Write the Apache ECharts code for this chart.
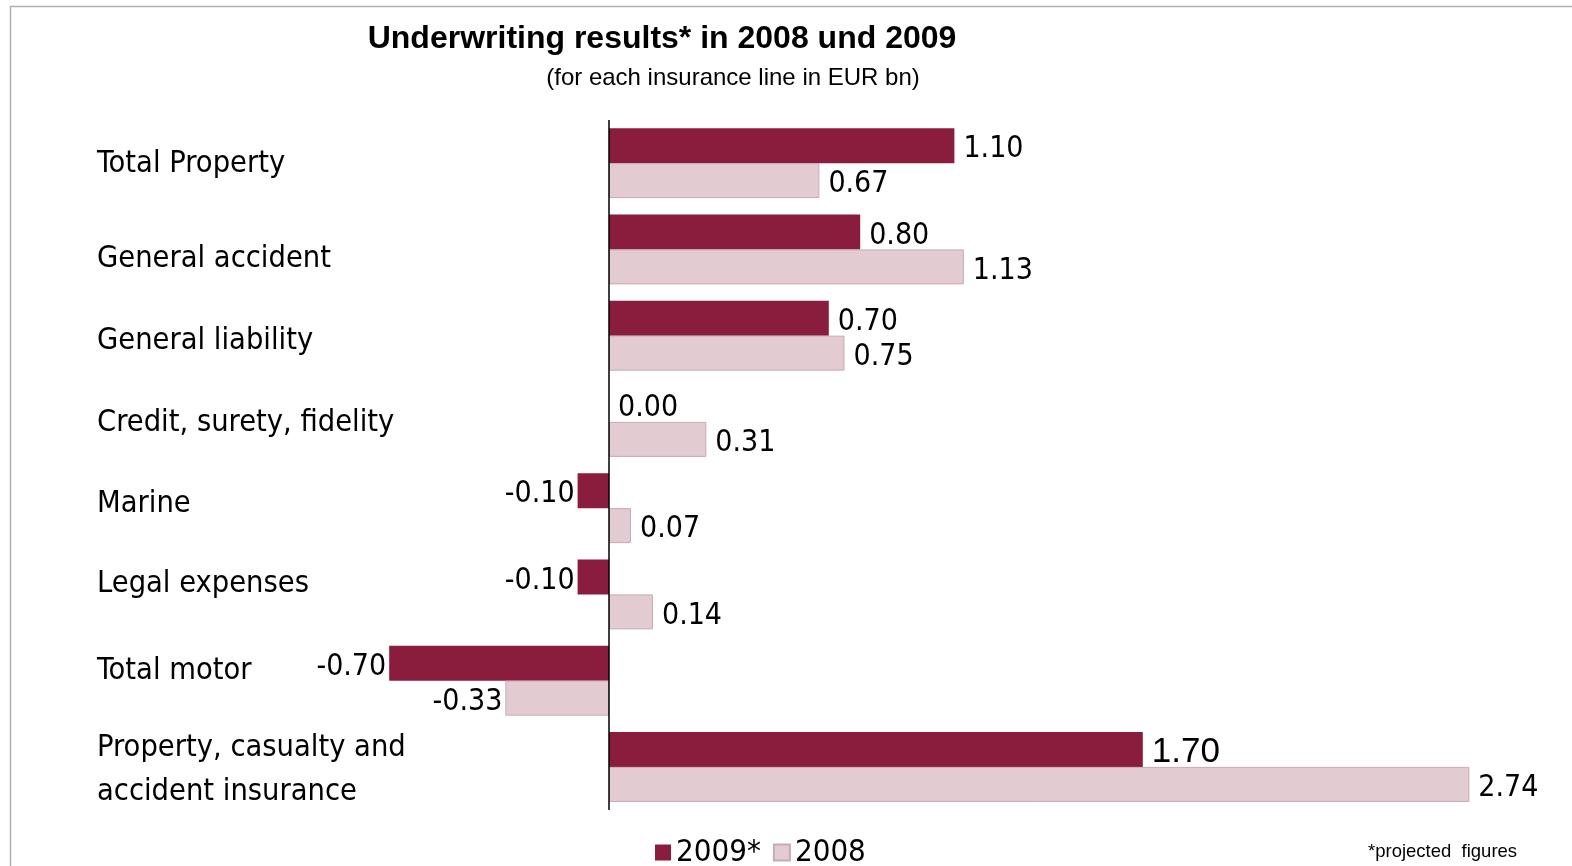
<!DOCTYPE html>
<html>
<head>
<meta charset="utf-8">
<script src="https://cdn.jsdelivr.net/npm/echarts@6/dist/echarts.min.js"></script>
<style>
html,body{margin:0;padding:0;background:#fff;}
#main{width:1572px;height:866px;}
</style>
</head>
<body>
<div id="main"></div>
<script>
const categories = ['Total Property','General accident','General liability','Credit, surety, fidelity','Marine','Legal expenses','Total motor','Property, casualty and\naccident insurance'];
const values2009 = [1.10, 0.80, 0.70, 0.00, -0.10, -0.10, -0.70, 1.70];
const values2008 = [0.67, 1.13, 0.75, 0.31, 0.07, 0.14, -0.33, 2.74];
const seriesNames = ['2009*', '2008'];

const NARROW = "'Liberation Sans Narrow','Arial Narrow','DejaVu Sans Condensed',sans-serif";
const SANS = "'Liberation Sans',Arial,sans-serif";
// small vertical nudges of the category labels (px, + = down)
const labelNudge = [1, 10, 5, 1, -4, -10, -10, 3];

function mkData(vals, isTotalBig) {
  return vals.map((v, i) => {
    const item = { value: v, label: { position: v < 0 ? 'left' : 'right', distance: v < 0 ? 3 : 9 } };
    if (isTotalBig && i === vals.length - 1) {
      item.label.fontFamily = SANS;
      item.label.fontSize = 35;
      item.label.offset = [0, 3];
    }
    return item;
  });
}

const rich = {};
labelNudge.forEach((d, i) => {
  rich['n' + i] = {
    fontFamily: NARROW, fontSize: 30.5, color: '#000', lineHeight: 44,
    padding: d >= 0 ? [2 * d, 0, 0, 0] : [0, 0, -2 * d, 0]
  };
});

const chart = echarts.init(document.getElementById('main'));
chart.setOption({
  animation: false,
  backgroundColor: '#fff',
  title: [{
    text: 'Underwriting results* in 2008 und 2009',
    left: 657, top: 18, textAlign: 'center',
    textStyle: { fontFamily: SANS, fontSize: 32, fontWeight: 'bold', color: '#000' }
  }, {
    text: '(for each insurance line in EUR bn)',
    left: 728, top: 61, textAlign: 'center',
    textStyle: { fontFamily: SANS, fontSize: 24, fontWeight: 'normal', color: '#000' }
  }, {
    text: '*projected  figures',
    left: 1363, top: 837,
    textStyle: { fontFamily: SANS, fontSize: 18.5, fontWeight: 'normal', color: '#000' }
  }],
  graphic: [{
    type: 'polyline',
    shape: { points: [[10.5, 866], [10.5, 6.5], [1572, 6.5]] },
    style: { stroke: '#b0b0b0', lineWidth: 1.5, fill: null }
  }],
  legend: {
    left: 650, top: 832,
    itemWidth: 16, itemHeight: 16, itemGap: 12,
    icon: 'rect',
    textStyle: { fontFamily: NARROW, fontSize: 31, color: '#000', padding: [6, 0, 0, 0] },
    data: seriesNames
  },
  grid: { left: 295, right: 21, top: 120, bottom: 56, containLabel: false, outerBoundsMode: 'none' },
  xAxis: {
    type: 'value', min: -1, max: 3,
    show: false
  },
  yAxis: {
    type: 'category', inverse: true,
    data: categories,
    axisLine: { show: false }, axisTick: { show: false }, splitLine: { show: false },
    axisLabel: {
      margin: 198, align: 'left',
      fontFamily: NARROW, fontSize: 30.5, color: '#000', lineHeight: 44,
      formatter: (val, idx) => val.split('\n').map(line => '{n' + idx + '|' + line + '}').join('\n'),
      rich: rich
    }
  },
  series: [{
    name: seriesNames[0], type: 'bar', barWidth: 35, barGap: '0%',
    itemStyle: { color: '#8a1c3e' },
    label: { show: true, fontFamily: NARROW, fontSize: 30, color: '#000', offset: [0, 4],
      formatter: p => p.value.toFixed(2) },
    data: mkData(values2009, true),
    markLine: {
      silent: true, symbol: 'none', label: { show: false },
      lineStyle: { color: '#000', width: 1.5, type: 'solid' },
      data: [{ xAxis: 0 }]
    }
  }, {
    name: seriesNames[1], type: 'bar', barWidth: 35, barGap: '0%',
    itemStyle: { color: '#e3cbd2', borderColor: '#c7aab3', borderWidth: 1 },
    label: { show: true, fontFamily: NARROW, fontSize: 30, color: '#000', offset: [0, 4],
      formatter: p => p.value.toFixed(2) },
    data: mkData(values2008, false)
  }]
});
</script>
</body>
</html>
